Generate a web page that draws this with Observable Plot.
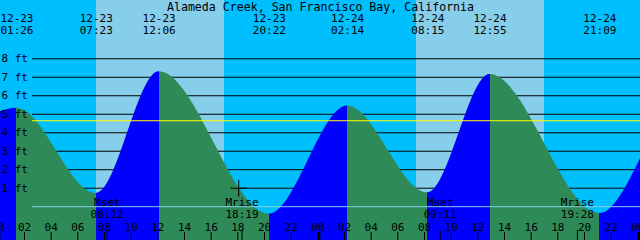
<!DOCTYPE html>
<html>
<head>
<meta charset="utf-8">
<script src="https://cdn.jsdelivr.net/npm/d3@7"></script>
<script src="https://cdn.jsdelivr.net/npm/@observablehq/plot@0.6"></script>
<style>
  html, body { margin: 0; padding: 0; background: #00BFFF; }
  svg { display: block; }
</style>
</head>
<body>
<div id="chart"></div>
<script>
// ---- data ----
const title = "Alameda Creek, San Francisco Bay, California";

// window shown: 12-23 00:12 to 12-25 00:12
const windowStart = "12-23 00:12";
const windowEnd = "12-25 00:12";

// tide curve knots (highs / lows, plus the heights at the window edges)
const tideStamps = ["12-23 00:12", "12-23 01:26", "12-23 07:23", "12-23 12:06", "12-23 20:22",
                    "12-24 02:14", "12-24 08:15", "12-24 12:55", "12-24 21:09", "12-25 00:12"];
const tideFeet   = [5.15, 5.33, 0.72, 7.3, -0.4, 5.45, 0.75, 7.15, -0.37, 2.6];

// labelled high / low events
const eventStamps = ["12-23 01:26", "12-23 07:23", "12-23 12:06", "12-23 20:22",
                     "12-24 02:14", "12-24 08:15", "12-24 12:55", "12-24 21:09"];

// sun (daylight bands)
const sunriseStamps = ["12-23 07:24", "12-24 07:24"];
const sunsetStamps  = ["12-23 17:00", "12-24 17:00"];

// moon events
const moonNames  = ["Mset", "Mrise", "Mset", "Mrise"];
const moonStamps = ["12-23 08:12", "12-23 18:19", "12-24 09:11", "12-24 19:28"];

// marker
const markStamps = ["12-23 18:04"];
const markFeet = [1];

// height gridlines
const gridFeet   = [1, 2, 3, 4, 5, 6, 7, 8];
const gridLabels = ["1 ft", "2 ft", "3 ft", "4 ft", "5 ft", "6 ft", "7 ft", "8 ft"];
const zeroFeet = [0];
const refFeet = [4.65];

// hour tick labels (every 2 hours)
const tickLabels = ["00","02","04","06","08","10","12","14","16","18","20","22",
                    "00","02","04","06","08","10","12","14","16","18","20","22","00"];
const midnightLabels = ["00"];

// ---- helpers ----
function toHours(stamp) {
  const [md, hm] = stamp.split(" ");
  const day = +md.split("-")[1];
  const [hh, mm] = hm.split(":").map(Number);
  return (day - 23) * 24 + hh + mm / 60;
}

const tide = tideStamps.map((s, i) => ({h: toHours(s), ft: tideFeet[i]}));
const events = eventStamps.map(s => ({h: toHours(s), date: s.split(" ")[0], time: s.split(" ")[1]}));
const days = sunriseStamps.map((s, i) => ({h1: toHours(s), h2: toHours(sunsetStamps[i])}));
const moon = moonStamps.map((s, i) => ({h: toHours(s), name: moonNames[i], time: s.split(" ")[1]}));
const marks = markStamps.map((s, i) => ({h: toHours(s), ft: markFeet[i]}));
const grid = gridFeet.map((f, i) => ({ft: f, label: gridLabels[i]}));
const ticks = tickLabels.map((l, i) => ({h: i * 2, label: l}));
const midnightTicks = ticks.filter(t => midnightLabels.includes(t.label));

const W = 640, H = 240;
const yMin = -1.828, yMax = 11.152;
const FONT = "DejaVu Sans Mono";
const BLUE = "#0000FF", GREEN = "#2E8B57", NIGHT = "#00BFFF", DAY = "#87CEEB";

const chart = Plot.plot({
  width: W, height: H, margin: 0,
  x: {domain: [toHours(windowStart), toHours(windowEnd)], axis: null},
  y: {domain: [yMin, yMax], axis: null},
  style: {background: NIGHT, fontFamily: FONT, color: "black", overflow: "hidden"},
  marks: [
    Plot.rect(days, {x1: "h1", x2: "h2", fill: DAY}),
    Plot.ruleY(grid, {y: "ft", stroke: "black", insetLeft: 32}),
    Plot.areaY(tide, {x: "h", y1: yMin, y2: "ft", curve: "monotone-x", fill: "url(#tideFill)"}),
    Plot.ruleY(zeroFeet, {y: d => d, stroke: DAY, insetLeft: 32}),
    Plot.ruleY(refFeet, {y: d => d, stroke: "#FFFF00", insetLeft: 32}),
    Plot.text(grid, {y: "ft", text: "label", frameAnchor: "left", textAnchor: "start", dx: 1,
                     lineAnchor: "middle", fontSize: 11, fontFamily: FONT, fill: "black"}),
    Plot.text([title], {text: d => d, frameAnchor: "top", dy: 10, lineAnchor: "bottom",
                        fontSize: 11.6, fontFamily: FONT, fill: "black"}),
    Plot.text(events, {x: "h", text: "date", frameAnchor: "top", dy: 21.5, lineAnchor: "bottom",
                       fontSize: 11, fontFamily: FONT, fill: "black"}),
    Plot.text(events, {x: "h", text: "time", frameAnchor: "top", dy: 33, lineAnchor: "bottom",
                       fontSize: 11, fontFamily: FONT, fill: "black"}),
    Plot.text(moon, {x: "h", text: "name", frameAnchor: "bottom", dy: -35, lineAnchor: "bottom",
                     fontSize: 11, fontFamily: FONT, fill: "black"}),
    Plot.text(moon, {x: "h", text: "time", frameAnchor: "bottom", dy: -23, lineAnchor: "bottom",
                     fontSize: 11, fontFamily: FONT, fill: "black"}),
    Plot.text(ticks, {x: "h", text: "label", frameAnchor: "bottom", dy: -10, lineAnchor: "bottom",
                      fontSize: 11, fontFamily: FONT, fill: "black"}),
    Plot.ruleX(ticks, {x: "h", insetTop: 232, stroke: "black"}),
    Plot.ruleX(midnightTicks, {x: "h", insetTop: 232, stroke: "black", strokeWidth: 3, dx: 1}),
    Plot.ruleX(moon, {x: "h", insetTop: 230, stroke: "black"}),
    Plot.dot(marks, {x: "h", y: "ft", symbol: "plus", r: 5.5, stroke: "black", strokeWidth: 1})
  ]
});

// gradient: blue while rising, green while falling, split at each high / low
const xs = chart.scale("x");
const svg = d3.select(chart);
const defs = svg.insert("defs", ":first-child");
const grad = defs.append("linearGradient")
  .attr("id", "tideFill")
  .attr("gradientUnits", "userSpaceOnUse")
  .attr("x1", 0).attr("x2", W).attr("y1", 0).attr("y2", 0);
for (let i = 0; i < tide.length - 1; i++) {
  const c = tide[i + 1].ft > tide[i].ft ? BLUE : GREEN;
  const o1 = Math.max(0, Math.min(1, xs.apply(tide[i].h) / W));
  const o2 = Math.max(0, Math.min(1, xs.apply(tide[i + 1].h) / W));
  grad.append("stop").attr("offset", o1).attr("stop-color", c);
  grad.append("stop").attr("offset", o2).attr("stop-color", c);
}

document.getElementById("chart").appendChild(chart);
</script>
</body>
</html>
